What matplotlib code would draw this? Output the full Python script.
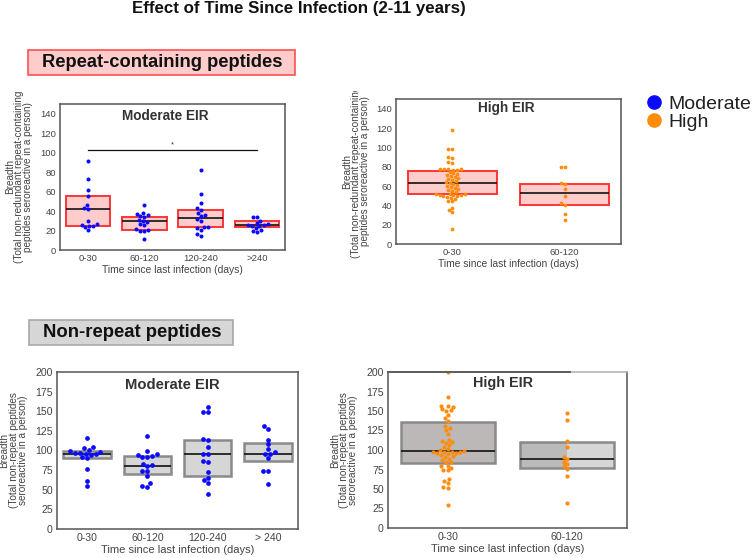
import numpy as np
import pandas as pd
import matplotlib
matplotlib.use("Agg")
import matplotlib.pyplot as plt
import seaborn as sns
from matplotlib.lines import Line2D
from matplotlib.patches import Rectangle
from matplotlib.transforms import Bbox, TransformedBbox

plt.rcParams['font.family'] = ['Liberation Sans', 'DejaVu Sans']

# ---------------- data ----------------
rep_mod_cats = ["0-30", "60-120", "120-240", ">240"]
rep_mod_0_30 = [91, 73, 62, 55, 46, 43, 42, 30, 27, 26, 25, 25, 24, 21]
rep_mod_60_120 = [46, 38, 37, 36, 35, 34, 31, 30, 29, 27, 26, 22, 21, 20, 20, 11]
rep_mod_120_240 = [82, 58, 48, 43, 41, 38, 36, 35, 32, 30, 24, 24, 23, 21, 16, 14]
rep_mod_240 = [34, 34, 30, 28, 27, 26, 26, 25, 25, 23, 21, 20, 19]
rep_mod_q1 = [24.7, 20.6, 23.3, 23.3]
rep_mod_med = [41.9, 30.2, 33.0, 25.7]
rep_mod_q3 = [55.0, 34.3, 41.2, 29.5]
rep_mod_sig_y = 103
rep_mod_sig_pair = (0, 3)

rep_high_cats = ["0-30", "60-120"]
rep_high_0_30 = [118, 98, 98, 90, 89, 85, 84, 78, 78, 78, 78, 77, 77, 75, 73, 72, 71,
                 70, 69, 68, 67, 66, 65, 64, 63, 62, 61, 60, 59, 58, 57, 56, 55, 54,
                 52, 52, 52, 51, 51, 51, 50, 50, 49, 48, 47, 45, 44, 37, 35, 33, 16]
rep_high_60_120 = [80, 80, 63, 62, 57, 50, 42, 40, 31, 25]
rep_high_q1 = [51.5, 40.0]
rep_high_med = [63.5, 53.0]
rep_high_q3 = [75.5, 62.5]

non_mod_cats = ["0-30", "60-120", "120-240", "> 240"]
non_mod_0_30 = [116, 105, 103, 101, 99, 98, 97, 97, 96, 95, 94, 92, 90, 77, 61, 55]
non_mod_60_120 = [119, 100, 95, 94, 93, 92, 92, 83, 82, 80, 74, 74, 67, 59, 55, 54]
non_mod_120_240 = [156, 149, 149, 115, 113, 105, 96, 96, 86, 85, 72, 65, 62, 58, 44]
non_mod_240 = [131, 128, 114, 108, 102, 98, 96, 95, 90, 74, 74, 57]
non_mod_q1 = [90.0, 70.0, 68.0, 86.0]
non_mod_med = [96.0, 80.6, 95.5, 96.0]
non_mod_q3 = [99.4, 93.0, 114.0, 109.0]

non_high_cats = ["0-30", "60-120"]
non_high_0_30 = [200, 168, 157, 156, 155, 152, 151, 150, 145, 141, 137, 131, 128, 126,
                 121, 113, 112, 110, 109, 106, 104, 101, 100, 99, 98, 98, 97, 97, 96,
                 96, 95, 94, 92, 91, 89, 87, 85, 84, 80, 79, 77, 75, 74, 63, 60, 58,
                 52, 51, 29]
non_high_60_120 = [148, 138, 112, 104, 91, 88, 85, 82, 79, 76, 67, 32]
non_high_q1 = [83.6, 76.5]
non_high_med = [98.7, 88.0]
non_high_q3 = [135.5, 110.3]

BLUE = "#0a0aff"
ORANGE = "#ff8c0a"
W, H = 754, 558

fig = plt.figure(figsize=(W / 100, H / 100), dpi=100)


def fig_rect(l, t, r, b):
    return [l / W, 1 - b / H, (r - l) / W, (b - t) / H]


def panel(ax, cats, groups, q1, med, q3, color, face, edge, elw, ymax, yticks,
          msize, title, tfs, tick_fs, xl_fs, ylabel, yl_fs, ylx, title_x, title_y):
    n = len(cats)
    stats = [dict(med=m, q1=a, q3=b, whislo=a, whishi=b, fliers=[])
             for a, m, b in zip(q1, med, q3)]
    faces = face if isinstance(face, list) else [face] * n
    bp = ax.bxp(stats, positions=list(range(n)), widths=0.79, patch_artist=True,
                showcaps=False, showfliers=False,
                boxprops=dict(edgecolor=edge, linewidth=elw),
                medianprops=dict(color="#111111", linewidth=1.2),
                whiskerprops=dict(linewidth=0), manage_ticks=False)
    for p, fc in zip(bp["boxes"], faces):
        p.set_facecolor(fc)
        p.set_zorder(1)
    df = pd.DataFrame({"cat": np.concatenate([[c] * len(g) for c, g in zip(cats, groups)]),
                       "val": np.concatenate(groups)})
    sns.swarmplot(data=df, x="cat", y="val", order=cats, color=color, size=msize,
                  linewidth=0, ax=ax, zorder=3)
    ax.set_xlim(-0.5, n - 0.5)
    ax.set_ylim(0, ymax)
    ax.set_yticks(yticks)
    ax.set_xticks(range(n))
    ax.set_xticklabels(cats)
    ax.tick_params(length=0, labelsize=tick_fs, colors="#444444", pad=3)
    for s in ax.spines.values():
        s.set_color("#555555")
        s.set_linewidth(1.1)
    ax.set_xlabel("Time since last infection (days)", fontsize=xl_fs, color="#444444",
                  labelpad=1)
    ax.set_ylabel(ylabel, fontsize=yl_fs, color="#444444", linespacing=0.88)
    ax.yaxis.set_label_coords(ylx, 0.5)
    ax.text(title_x, title_y, title, transform=ax.transAxes, ha="center", va="center",
            fontsize=tfs, fontweight="bold", color="#333333")
    return ax


yl_rep = "Breadth\n(Total non-redundant repeat-containing\npeptides seroreactive in a person)"
yl_non = "Breadth\n(Total non-repeat peptides\nseroreactive in a person)"

ax1 = fig.add_axes(fig_rect(60, 104, 285, 250))
panel(ax1, rep_mod_cats, [rep_mod_0_30, rep_mod_60_120, rep_mod_120_240, rep_mod_240],
      rep_mod_q1, rep_mod_med, rep_mod_q3, BLUE, "#ffcccc", "#ff3535", 1.4, 150,
      range(0, 141, 20), 2.9, "Moderate EIR", 9.8, 6.8, 7.4, yl_rep, 7.2, -0.12, 0.47, 0.92)
ax1.plot(list(rep_mod_sig_pair), [rep_mod_sig_y] * 2, color="#111111", lw=0.9, zorder=2)
ax1.text(np.mean(rep_mod_sig_pair), rep_mod_sig_y + 1, "*", ha="center", va="bottom",
         fontsize=5.5, color="#333333")

ax2 = fig.add_axes(fig_rect(396, 99, 621, 244))
panel(ax2, rep_high_cats, [rep_high_0_30, rep_high_60_120], rep_high_q1, rep_high_med,
      rep_high_q3, ORANGE, "#ffcccc", "#ff3535", 1.4, 150, range(0, 141, 20), 2.7,
      "High EIR", 9.8, 6.8, 7.4, yl_rep, 7.2, -0.115, 0.49, 0.94)
lab = ax2.yaxis.label
lab.set_clip_box(TransformedBbox(Bbox([[0, 0], [1, 1 - 91 / H]]), fig.transFigure))
lab.set_clip_on(True)

ax3 = fig.add_axes(fig_rect(57, 372, 298, 529))
panel(ax3, non_mod_cats, [non_mod_0_30, non_mod_60_120, non_mod_120_240, non_mod_240],
      non_mod_q1, non_mod_med, non_mod_q3, BLUE, "#d6d6d6", "#8a8a8a", 1.8, 200,
      range(0, 201, 25), 3.4, "Moderate EIR", 10.6, 7.6, 8.0, yl_non, 7.2, -0.122, 0.48, 0.92)

ax4 = fig.add_axes(fig_rect(388, 372, 627, 528))
panel(ax4, non_high_cats, [non_high_0_30, non_high_60_120], non_high_q1, non_high_med,
      non_high_q3, ORANGE, ["#bcb8b8", "#d6d6d6"], "#8a8a8a", 1.8, 200,
      range(0, 201, 25), 3.0, "High EIR", 10.4, 7.6, 8.0, yl_non, 7.2, -0.125, 0.48, 0.93)
ax4.spines["top"].set_color("#b0b0b0")
ax4.axhline(200, xmin=0, xmax=0.76, color="#555555", lw=1.3, clip_on=False, zorder=5)
# darker left half of the 60-120 box
ax4.add_patch(Rectangle((1 - 0.395, non_high_q1[1]), 0.395, non_high_q3[1] - non_high_q1[1],
                        facecolor="#8a8686", alpha=0.35, edgecolor="none", zorder=1.5))

# ---------------- figure texts ----------------
fig.text(298.5 / W, 1 - 8.5 / H, "Effect of Time Since Infection (2-11 years)",
         ha="center", va="center", fontsize=12.2, fontweight="bold", color="#111111")

fig.patches.append(Rectangle((28 / W, 1 - 75 / H), 267 / W, 25 / H, transform=fig.transFigure,
                             facecolor="#ffcccc", edgecolor="#ff5050", lw=1.2))
fig.text(162 / W, 1 - 62.5 / H, "Repeat-containing peptides", ha="center", va="center",
         fontsize=13.2, fontweight="bold", color="#111111")

fig.patches.append(Rectangle((29 / W, 1 - 345 / H), 204 / W, 25 / H, transform=fig.transFigure,
                             facecolor="#d6d6d6", edgecolor="#a8a8a8", lw=1.2))
fig.text(132 / W, 1 - 332.5 / H, "Non-repeat peptides", ha="center", va="center",
         fontsize=13.3, fontweight="bold", color="#111111")

handles = [Line2D([], [], marker="o", ls="", color=BLUE, markersize=9.5),
           Line2D([], [], marker="o", ls="", color=ORANGE, markersize=9.5)]
leg = fig.legend(handles, ["Moderate", "High"], loc="upper left",
                 bbox_to_anchor=(648 / W, 1 - 95 / H), frameon=False, fontsize=14,
                 handlelength=0.6, handletextpad=0.45, labelspacing=0.05,
                 borderpad=0, borderaxespad=0)
for t in leg.get_texts():
    t.set_color("#222222")

fig.savefig("out.png", dpi=100)
